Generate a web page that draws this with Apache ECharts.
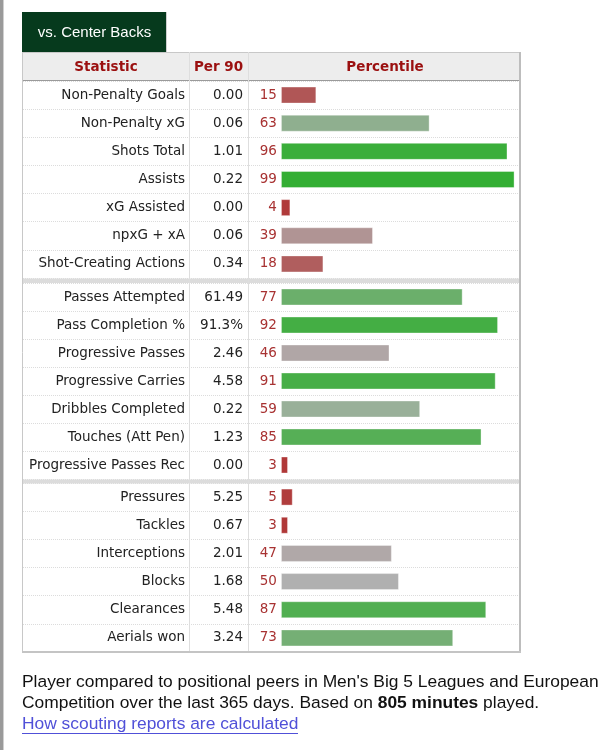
<!DOCTYPE html>
<html><head><meta charset="utf-8">
<script src="https://cdn.jsdelivr.net/npm/echarts@6/dist/echarts.min.js"></script>
<style>html,body{margin:0;padding:0;background:#fff}#c{width:609px;height:750px}</style>
</head><body><div id="c"></div>
<script>
const tabLabel = 'vs. Center Backs';
const headers = ['Statistic', 'Per 90', 'Percentile'];

const statsShooting = ['Non-Penalty Goals', 'Non-Penalty xG', 'Shots Total', 'Assists', 'xG Assisted', 'npxG + xA', 'Shot-Creating Actions'];
const per90Shooting = ['0.00', '0.06', '1.01', '0.22', '0.00', '0.06', '0.34'];
const pctShooting = [15, 63, 96, 99, 4, 39, 18];

const statsPassing = ['Passes Attempted', 'Pass Completion %', 'Progressive Passes', 'Progressive Carries', 'Dribbles Completed', 'Touches (Att Pen)', 'Progressive Passes Rec'];
const per90Passing = ['61.49', '91.3%', '2.46', '4.58', '0.22', '1.23', '0.00'];
const pctPassing = [77, 92, 46, 91, 59, 85, 3];

const statsDefense = ['Pressures', 'Tackles', 'Interceptions', 'Blocks', 'Clearances', 'Aerials won'];
const per90Defense = ['5.25', '0.67', '2.01', '1.68', '5.48', '3.24'];
const pctDefense = [5, 3, 47, 50, 87, 73];

const footLine1 = "Player compared to positional peers in Men's Big 5 Leagues and European";
const footLine2 = 'Competition over the last 365 days. Based on {b|805 minutes} played.';
const footLink = 'How scouting reports are calculated';

const groups = [
  { names: statsShooting, per90: per90Shooting, pct: pctShooting, top: 81, height: 197 },
  { names: statsPassing, per90: per90Passing, pct: pctPassing, top: 283, height: 196 },
  { names: statsDefense, per90: per90Defense, pct: pctDefense, top: 483, height: 169 }
];

const FONT = 'DejaVu Sans';
const scaleColors = ['#b03030', '#b0b0b0', '#30ae30'];
function pctColor(v) { return echarts.color.lerp(v / 100, scaleColors); }

const grid = [], xAxis = [], yAxis = [], series = [];
groups.forEach((g, i) => {
  grid.push({ left: 23, right: 89, top: g.top, height: g.height, containLabel: false, outerBoundsMode: 'none' });
  xAxis.push({ gridIndex: i, type: 'value', min: -109.3, max: 101.3, show: false, splitLine: { show: false } });
  yAxis.push({
    gridIndex: i, type: 'category', inverse: true, data: g.names, position: 'left', offset: -162,
    axisLine: { show: false }, axisTick: { show: false },
    axisLabel: { margin: 0, interval: 0, color: '#222', fontFamily: FONT, fontSize: 13.5, padding: [4, 0, 0, 0] },
    splitLine: { show: true, interval: 0, lineStyle: { type: 'dotted', color: '#dcdcdc', width: 1 } }
  });
  yAxis.push({
    gridIndex: i, type: 'category', inverse: true, data: g.per90, position: 'left', offset: -220,
    axisLine: { show: false }, axisTick: { show: false },
    axisLabel: { margin: 0, interval: 0, color: '#222', fontFamily: FONT, fontSize: 13.5, padding: [4, 0, 0, 0] },
    splitLine: { show: false }
  });
  series.push({
    type: 'bar', xAxisIndex: i, yAxisIndex: i * 2, data: g.pct, barWidth: 17, silent: true,
    itemStyle: { color: p => pctColor(p.value), borderColor: 'rgba(255,255,255,0.35)', borderWidth: 1 },
    label: { show: true, position: 'left', distance: 4, formatter: '{c}', color: '#a83232', fontFamily: FONT, fontSize: 13.5, padding: [4, 0, 0, 0] }
  });
});

function txt(x, y, text, font, fill, align, extra) {
  return Object.assign({
    type: 'text', z: 20,
    style: { x: x, y: y, text: text, font: font, fill: fill, align: align, verticalAlign: 'middle', textAlign: align, textVerticalAlign: 'middle' }
  }, extra || {});
}
function line(x1, y1, x2, y2, color, w, z) {
  return { type: 'line', z: z || 15, shape: { x1: x1, y1: y1, x2: x2, y2: y2 }, style: { stroke: color, lineWidth: w } };
}
function rect(x, y, w, h, fill, z) {
  return { type: 'rect', z: z || 1, shape: { x: x, y: y, width: w, height: h }, style: { fill: fill } };
}

const FOOT = '17.4px "Liberation Sans"';
const graphic = [
  rect(0, 0, 3, 750, '#9a9a9a', 1),
  rect(3, 0, 1, 750, '#d0d0d0', 1),
  rect(22, 12, 144, 40, '#063a1d', 1),
  line(166.5, 12, 166.5, 52, '#cfcfcf', 1, 2),
  txt(94.5, 32.5, tabLabel, '15px "Liberation Sans"', '#ffffff', 'center'),
  rect(22, 52, 499, 28, '#ededed', 1),
  line(22, 52.5, 521, 52.5, '#c8c8c8', 1),
  line(22, 80.5, 521, 80.5, '#9a9a9a', 1),
  txt(106, 67, headers[0], 'bold 13.5px "DejaVu Sans"', '#9b1010', 'center'),
  txt(218.5, 67, headers[1], 'bold 13.5px "DejaVu Sans"', '#9b1010', 'center'),
  txt(385, 67, headers[2], 'bold 13.5px "DejaVu Sans"', '#9b1010', 'center'),
  rect(22, 278.5, 498, 4.5, '#dcdcdc', 15),
  rect(22, 479.5, 498, 4, '#dcdcdc', 15),
  line(189.5, 52, 189.5, 652, '#dedede', 1),
  line(248.5, 52, 248.5, 652, '#dedede', 1),
  line(22.5, 52, 22.5, 653, '#c8c8c8', 1),
  line(520, 52, 520, 653, '#bdbdbd', 2),
  line(22, 652, 521, 652, '#c4c4c4', 2),
  txt(22, 682, footLine1, FOOT, '#111', 'left'),
  txt(22, 703.5, footLine2, FOOT, '#111', 'left'),
  txt(22, 724, footLink, FOOT, '#5050d8', 'left'),
  line(22, 733.5, 298, 733.5, '#5050d8', 1)
];
graphic[19].style.rich = { b: { font: 'bold 17.4px "Liberation Sans"', fill: '#111' } };

const chart = echarts.init(document.getElementById('c'), null, { renderer: 'canvas' });
chart.setOption({
  animation: false,
  backgroundColor: '#ffffff',
  grid: grid, xAxis: xAxis, yAxis: yAxis, series: series, graphic: graphic
});
</script>
</body></html>
